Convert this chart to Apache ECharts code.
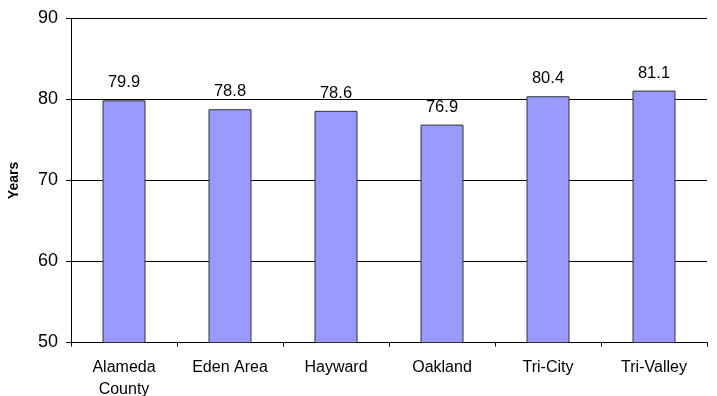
<!DOCTYPE html>
<html>
<head>
<meta charset="utf-8">
<script src="https://cdn.jsdelivr.net/npm/echarts@6/dist/echarts.min.js"></script>
<style>
  html, body { margin: 0; padding: 0; background: #fff; }
  #chart { width: 717px; height: 396px; }
</style>
</head>
<body>
<div id="chart"></div>
<script>
const categories = ['Alameda\nCounty', 'Eden Area', 'Hayward', 'Oakland', 'Tri-City', 'Tri-Valley']
const lifeExpectancy = [79.9, 78.8, 78.6, 76.9, 80.4, 81.1]
const yTicks = [50, 60, 70, 80, 90]

const chart = echarts.init(document.getElementById('chart'), null, { renderer: 'canvas' })

chart.setOption({
  animation: false,
  textStyle: { fontFamily: 'Liberation Sans, Arial, sans-serif' },
  grid: { left: 71, right: 10, top: 18.5, bottom: 53.5, outerBoundsMode: 'none', containLabel: false },
  xAxis: {
    type: 'category',
    data: categories,
    axisLine: { lineStyle: { color: '#000', width: 1 } },
    axisTick: { show: true, length: 4, lineStyle: { color: '#000' } },
    axisLabel: { color: '#000', fontSize: 16, margin: 14, lineHeight: 22 }
  },
  yAxis: {
    type: 'value',
    min: yTicks[0],
    max: yTicks[yTicks.length - 1],
    interval: 10,
    name: 'Years',
    nameLocation: 'middle',
    nameGap: 50,
    nameRotate: 90,
    nameTextStyle: { color: '#000', fontSize: 14, fontWeight: 'bold', padding: [0, 0, 0, 0] },
    axisLine: { show: true, lineStyle: { color: '#000', width: 1 } },
    axisTick: { show: true, length: 5, lineStyle: { color: '#000' } },
    axisLabel: { color: '#000', fontSize: 18, margin: 13 },
    splitLine: { show: true, lineStyle: { color: '#000', width: 1 } }
  },
  series: [
    {
      type: 'bar',
      data: lifeExpectancy,
      barWidth: 43,
      itemStyle: { color: '#9999FF', borderColor: '#333', borderWidth: 1 },
      label: {
        show: true,
        position: 'top',
        distance: 9,
        color: '#000',
        fontSize: 16.5,
        formatter: p => p.value.toFixed(1)
      }
    }
  ]
})
</script>
</body>
</html>
